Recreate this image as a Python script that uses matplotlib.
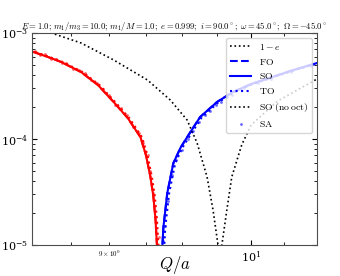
import numpy as np
import matplotlib
matplotlib.use("Agg")
import matplotlib.pyplot as plt
from matplotlib.ticker import LogLocator, FuncFormatter

plt.rcParams['mathtext.fontset'] = 'cm'
plt.rcParams['font.family'] = 'serif'
plt.rcParams['font.serif'] = ['DejaVu Serif']

# values (|Delta| on a log scale)
q_so_neg = [8.51, 8.60, 8.687, 8.815, 8.926, 9.031, 9.125, 9.212, 9.25, 9.28, 9.30, 9.315, 9.325, 9.332]
v_so_neg = [6.62e-4, 5.95e-4, 5.32e-4, 4.28e-4, 3.23e-4, 2.23e-4, 1.58e-4, 1.04e-4, 7.0e-5,
            4.4e-5, 2.9e-5, 1.75e-5, 1.0e-5, 3e-6]
q_so_pos = [9.355, 9.363, 9.370, 9.397, 9.439, 9.49, 9.536, 9.628, 9.749, 9.864, 10.0, 10.135, 10.3, 10.5]
v_so_pos = [3e-6, 1.0e-5, 1.48e-5, 3.1e-5, 5.9e-5, 8.3e-5, 1.04e-4, 1.61e-4, 2.23e-4, 2.77e-4,
            3.3e-4, 3.76e-4, 4.4e-4, 5.21e-4]

q_to_neg = [8.52, 8.61, 8.697, 8.825, 8.936, 9.041, 9.135, 9.222, 9.26, 9.29, 9.31, 9.325, 9.335, 9.342]
q_to_pos = [9.368, 9.376, 9.383, 9.410, 9.452, 9.503, 9.549, 9.641, 9.762, 9.877, 10.013, 10.148, 10.313, 10.513]

q_noct = [8.51, 8.623, 8.815, 9.031, 9.260, 9.418, 9.536, 9.607, 9.678, 9.721, 9.757, 9.771,
          9.785, 9.821, 9.857, 9.93, 10.0, 10.2, 10.5]
v_noct = [1.11e-3, 1.0e-3, 8.05e-4, 5.56e-4, 3.60e-4, 2.33e-4, 1.51e-4, 9.16e-5, 4.39e-5, 2.14e-5,
          1.0e-5, 1e-6, 1.0e-5, 2.14e-5, 4.39e-5, 8.8e-5, 1.36e-4, 2.29e-4, 3.68e-4]

one_minus_e = 1e-3

q_sa_neg = [8.52, 8.55, 8.58, 8.62, 8.65, 8.69, 8.72, 8.76, 8.80, 8.84, 8.88, 8.92, 8.96, 9.00,
            9.04, 9.08, 9.12, 9.16, 9.20, 9.23, 9.26, 9.28, 9.30, 9.32, 9.338]
v_sa_neg = [6.7e-4, 6.2e-4, 6.3e-4, 5.7e-4, 5.7e-4, 5.2e-4, 5.2e-4, 4.6e-4, 4.5e-4, 4.2e-4,
            3.6e-4, 3.4e-4, 2.95e-4, 2.6e-4, 2.1e-4, 1.95e-4, 1.7e-4, 1.3e-4, 1.15e-4, 9.2e-5,
            7.0e-5, 5.0e-5, 3.1e-5, 1.6e-5, 1.2e-5]
q_sa_pos = [9.37, 9.38, 9.40, 9.43, 9.46, 9.50, 9.54, 9.58, 9.62, 9.66, 9.70, 9.74, 9.78, 9.82,
            9.86, 9.95, 10.05, 10.15, 10.3, 10.45]
v_sa_pos = [1.1e-5, 1.5e-5, 2.6e-5, 4.6e-5, 6.4e-5, 7.9e-5, 1.0e-4, 1.18e-4, 1.45e-4, 1.7e-4,
            1.85e-4, 2.1e-4, 2.25e-4, 2.5e-4, 2.6e-4, 3.0e-4, 3.4e-4, 3.7e-4, 4.3e-4, 4.9e-4]

fig = plt.figure(figsize=(3.4, 2.76), dpi=100)
ax = fig.add_axes([32 / 340, 1 - 245 / 276, 285 / 340, 212 / 276])

ax.axhline(one_minus_e, color='k', ls=':', lw=1.2, label=r'$1-e$')
ax.plot(q_so_neg, v_so_neg, color='r', ls='--', lw=1.5)
ax.plot(q_so_pos, v_so_pos, color='b', ls='--', lw=1.5, label=r'$\mathrm{FO}$')
ax.plot(q_so_neg, v_so_neg, color='r', ls='-', lw=1.5)
ax.plot(q_so_pos, v_so_pos, color='b', ls='-', lw=1.5, label=r'$\mathrm{SO}$')
ax.plot(q_to_neg, v_so_neg, color='r', ls=':', lw=1.5)
ax.plot(q_to_pos, v_so_pos, color='b', ls=':', lw=1.5, label=r'$\mathrm{TO}$')
ax.plot(q_noct, v_noct, color='k', ls=':', lw=1.2, label=r'$\mathrm{SO\ (no\,oct)}$')
ax.plot(q_sa_neg, v_sa_neg, 'o', color='r', ms=2, alpha=0.6, mec='none')
ax.plot(q_sa_pos, v_sa_pos, 'o', color='b', ms=2, alpha=0.6, mec='none', label=r'$\mathrm{SA}$')

ax.set_xscale('log')
ax.set_yscale('log')
ax.set_xlim(8.5, 10.5)
ax.set_ylim(1e-5, 1e-3)
ax.xaxis.set_minor_locator(LogLocator(base=10, subs=np.arange(2, 10)))
ax.xaxis.set_minor_formatter(FuncFormatter(
    lambda v, p: r'$9\times10^{0}$' if abs(v - 9) < 1e-6 else ''))
ax.tick_params(which='both', direction='in', top=True, right=True, labelsize=8, pad=3)
ax.tick_params(which='minor', labelsize=5)
for s in ax.spines.values():
    s.set_color('0.3')

ax.set_title(r'$E=1.0;\,m_1/m_3=10.0;\,m_1/M=1.0;\ e=0.999;\ i=90.0^\circ;\ '
             r'\omega=45.0^\circ;\ \Omega=-45.0^\circ$', fontsize=6.2, pad=3)
ax.set_xlabel(r'$Q/a$', fontsize=12)
ax.xaxis.set_label_coords(0.5, -0.042)
ax.set_ylabel(r'$1-e$', fontsize=12)
ax.yaxis.set_label_coords(-0.115, 0.5)

ax.legend(loc='upper right', fontsize=7, framealpha=0.8, handlelength=2.2, numpoints=1)

fig.savefig('out.png', dpi=100)
